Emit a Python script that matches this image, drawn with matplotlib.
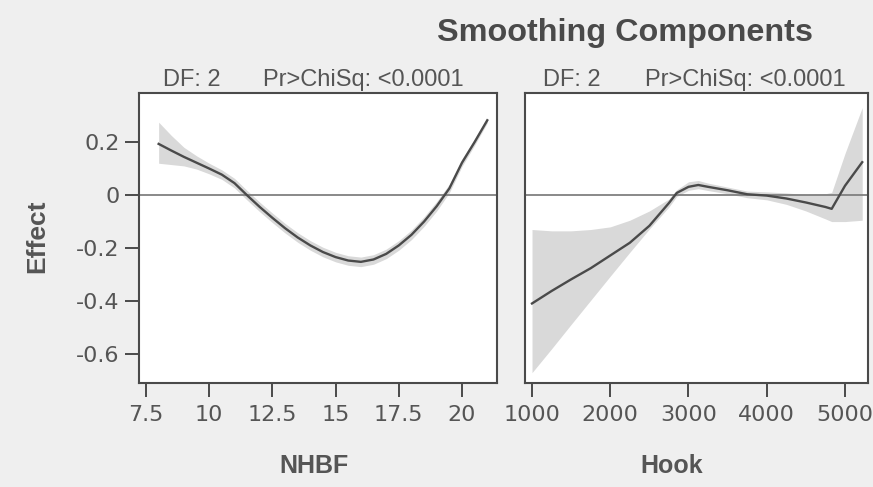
import matplotlib
matplotlib.use("Agg")
import matplotlib.pyplot as plt

# NHBF smoothing component
nhbf = [8, 8.5, 9, 9.5, 10, 10.5, 11, 11.5, 12, 12.5, 13, 13.5, 14, 14.5,
        15, 15.5, 16, 16.5, 17, 17.5, 18, 18.5, 19, 19.5, 20, 20.5, 21]
nhbf_effect = [0.193, 0.168, 0.144, 0.122, 0.100, 0.077, 0.045, -0.001, -0.045,
               -0.086, -0.125, -0.160, -0.190, -0.215, -0.234, -0.247, -0.252,
               -0.243, -0.222, -0.190, -0.150, -0.100, -0.042, 0.025, 0.122,
               0.200, 0.282]
nhbf_lower = [0.120, 0.115, 0.110, 0.098, 0.080, 0.059, 0.027, -0.019, -0.063,
              -0.104, -0.143, -0.178, -0.208, -0.233, -0.252, -0.265, -0.270,
              -0.261, -0.240, -0.208, -0.168, -0.118, -0.060, 0.009, 0.108,
              0.188, 0.272]
nhbf_upper = [0.275, 0.225, 0.180, 0.148, 0.120, 0.095, 0.063, 0.017, -0.027,
              -0.068, -0.107, -0.142, -0.172, -0.197, -0.216, -0.229, -0.234,
              -0.225, -0.204, -0.172, -0.132, -0.082, -0.024, 0.041, 0.136,
              0.212, 0.292]

# Hook smoothing component
hook = [1000, 1250, 1500, 1750, 2000, 2250, 2500, 2750, 2850, 3000, 3125,
        3250, 3500, 3750, 4000, 4250, 4500, 4750, 4830, 5000, 5220]
hook_effect = [-0.409, -0.362, -0.318, -0.276, -0.228, -0.180, -0.116, -0.030,
               0.008, 0.031, 0.038, 0.031, 0.018, 0.003, -0.002, -0.013, -0.028,
               -0.045, -0.052, 0.035, 0.124]
hook_lower = [-0.670, -0.580, -0.488, -0.397, -0.306, -0.216, -0.128, -0.045,
              -0.005, 0.018, 0.024, 0.017, 0.005, -0.010, -0.018, -0.035, -0.060,
              -0.090, -0.100, -0.100, -0.095]
hook_upper = [-0.130, -0.135, -0.135, -0.130, -0.120, -0.095, -0.060, -0.015,
              0.020, 0.050, 0.055, 0.045, 0.030, 0.015, 0.012, 0.008, 0.002,
              0.005, 0.010, 0.157, 0.330]

nhbf_ticks = [7.5, 10, 12.5, 15, 17.5, 20]
nhbf_ticklabels = ["7.5", "10", "12.5", "15", "17.5", "20"]
hook_ticks = [1000, 2000, 3000, 4000, 5000]
hook_ticklabels = ["1000", "2000", "3000", "4000", "5000"]
effect_ticks = [0.2, 0, -0.2, -0.4, -0.6]
effect_ticklabels = ["0.2", "0", "-0.2", "-0.4", "-0.6"]

title = "Smoothing Components"
df_text = "DF: 2"
p_text = "Pr>ChiSq: <0.0001"

W, H = 873, 487
fig = plt.figure(figsize=(W / 100, H / 100), dpi=100, facecolor="#efefef")

def fx(px):
    return px / W

def fy(py):
    return 1 - py / H

top, bottom = 93, 383
ax1 = fig.add_axes([fx(139), fy(bottom), fx(497 - 139), (bottom - top) / H])
ax2 = fig.add_axes([fx(525), fy(bottom), fx(868 - 525), (bottom - top) / H])

line_col = "#4a4a4a"
band_col = "#d9d9d9"
frame_col = "#4a4a4a"
text_col = "#555555"
tick_size = 16

for ax, x, y, lo, hi in [(ax1, nhbf, nhbf_effect, nhbf_lower, nhbf_upper),
                         (ax2, hook, hook_effect, hook_lower, hook_upper)]:
    ax.set_facecolor("white")
    ax.fill_between(x, lo, hi, color=band_col, lw=0, zorder=1)
    ax.axhline(0, color="#808080", lw=1.3, zorder=2)
    ax.plot(x, y, color=line_col, lw=1.7, zorder=3)
    ax.set_ylim(-0.709, 0.385)
    for s in ax.spines.values():
        s.set_color(frame_col)
        s.set_linewidth(1.5)
    ax.tick_params(axis="x", direction="out", length=10, width=1.4,
                   color=frame_col, labelcolor=text_col, labelsize=tick_size,
                   pad=6)

ax1.set_xlim(7.223, 21.385)
ax1.set_xticks(nhbf_ticks)
ax1.set_xticklabels(nhbf_ticklabels, family="DejaVu Sans")
ax1.set_yticks(effect_ticks)
ax1.set_yticklabels(effect_ticklabels, family="DejaVu Sans")
ax1.tick_params(axis="y", direction="out", length=10, width=1.4,
                color=frame_col, labelcolor=text_col, labelsize=tick_size, pad=4)

ax2.set_xlim(910.5, 5294)
ax2.set_xticks(hook_ticks)
ax2.set_xticklabels(hook_ticklabels, family="DejaVu Sans")
ax2.set_yticks([])

fig.text(fx(625), fy(33), title, ha="center", va="center", fontsize=23.3,
         fontweight="bold", family="Liberation Sans", color="#4a4a4a")

for x_df, x_p in [(163, 263), (543, 645)]:
    fig.text(fx(x_df), fy(80), df_text, ha="left", va="center", fontsize=17,
             family="Liberation Sans", color=text_col)
    fig.text(fx(x_p), fy(80), p_text, ha="left", va="center", fontsize=17,
             family="Liberation Sans", color=text_col)

fig.text(fx(314), fy(466), "NHBF", ha="center", va="center", fontsize=18,
         fontweight="bold", family="Liberation Sans", color=text_col)
fig.text(fx(672), fy(466), "Hook", ha="center", va="center", fontsize=18,
         fontweight="bold", family="Liberation Sans", color=text_col)
fig.text(fx(37), fy(236), "Effect", ha="center", va="center", rotation=90,
         fontsize=19, fontweight="bold", family="Liberation Sans", color=text_col)

fig.savefig("out.png", dpi=100, facecolor=fig.get_facecolor())
